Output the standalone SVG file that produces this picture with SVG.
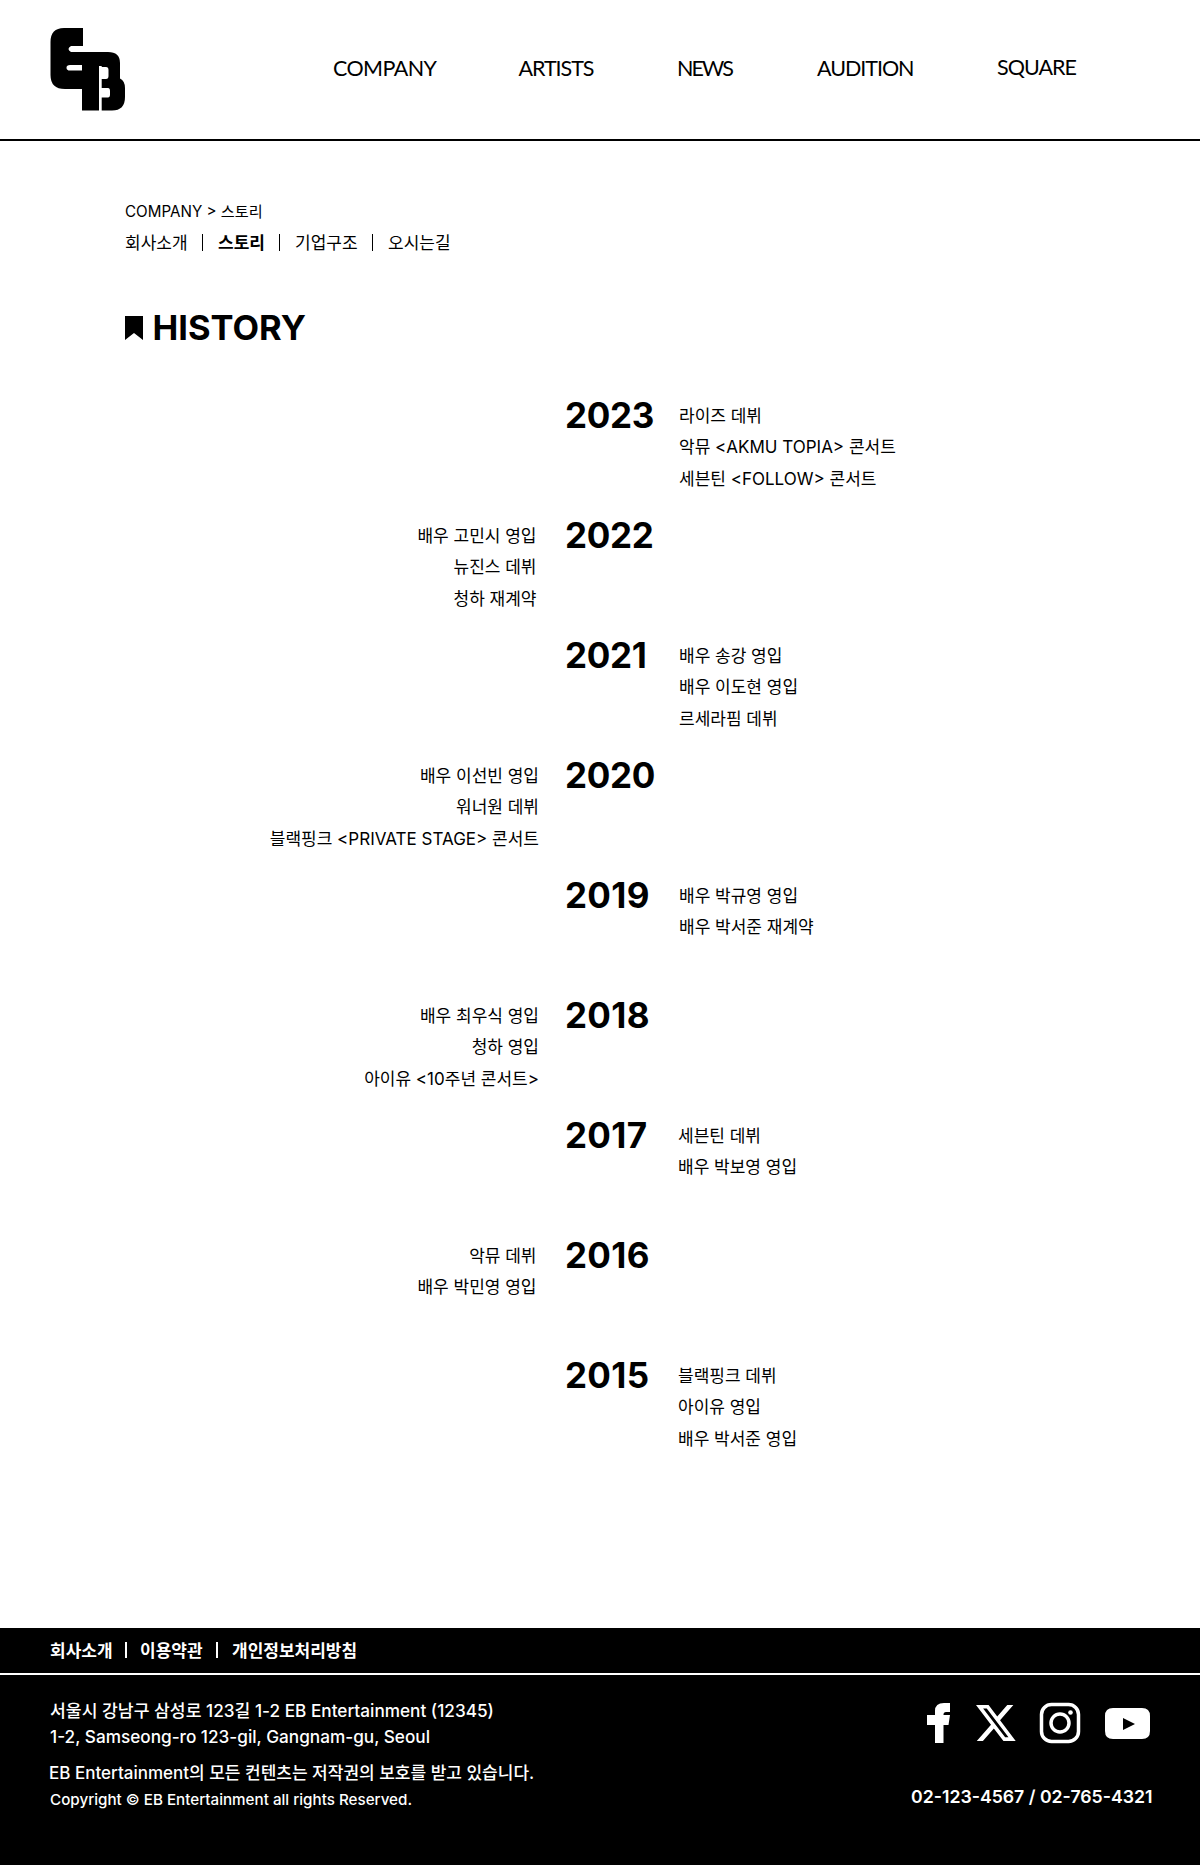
<svg xmlns="http://www.w3.org/2000/svg" width="1200" height="1865" viewBox="0 0 1200 1865">
<style>
text{font-family:Inter,"Noto Sans CJK KR",sans-serif;fill:#000}
.nav{font-family:Lato,"Noto Sans",sans-serif;font-size:21.500px}
.it{font-size:17px;transform:translateY(1px)}
.r{text-anchor:end;transform:translate(.5px,1px)}
.y{font-size:35px;font-weight:700;letter-spacing:-.3px}
.w{letter-spacing:.3px}
.f{fill:#fff}
.fn{font-size:17px;font-weight:600;fill:#fff}
.fa{font-size:17.200px;font-weight:500;fill:#fff}
</style>
<rect width="1200" height="1865" fill="#fff"/>
<g id="header">
<path id="logo" fill-rule="evenodd" d="M83 28H64Q50.500 28 50.500 42V75Q50.500 89 65 89H82V110.5H112Q125 110.5 125 97V88Q125 81 120 78.500Q120 76 120 72V63Q120 52 108 52H71Q66 49 71 46H83ZM70 65H82V70.500H70Q66.500 70.500 66.500 67.700Q66.500 65 70 65ZM99 66H101.700V110.500H99ZM101.700 67H106Q108.500 67 108.500 70V76Q108.500 79 106 79H101.700ZM101.700 88H108Q110 88 110 91V94.500Q110 97.500 108 97.500H101.700Z"/>
<text class="nav" x="333" y="76" textLength="104">COMPANY</text>
<text class="nav" x="518.500" y="76" textLength="76">ARTISTS</text>
<text class="nav" x="677" y="76" textLength="57">NEWS</text>
<text class="nav" x="817" y="76" textLength="97.500">AUDITION</text>
<text class="nav" x="997" y="75" textLength="80">SQUARE</text>
<rect y="139" width="1200" height="2"/>
</g>
<g id="breadcrumb">
<text x="125" y="217" font-size="15.200">COMPANY &gt; 스토리</text>
<text x="125" y="248.700" font-size="17">회사소개</text>
<text x="218" y="248.700" font-size="17" font-weight="700">스토리</text>
<text x="295" y="248.700" font-size="17">기업구조</text>
<text x="388" y="248.700" font-size="17">오시는길</text>
<rect x="202" y="234" width="1" height="17"/><rect x="279" y="234" width="1" height="17"/><rect x="372" y="234" width="1" height="17"/>
</g>
<g id="title">
<path d="M125 316H143V340L134 333L125 340Z"/>
<text x="152.500" y="339.500" font-size="34.500" font-weight="700">HISTORY</text>
</g>
<g id="y2023"><text class="y" x="565" y="428">2023</text>
<text class="it" x="679" y="421">라이즈 데뷔</text><text class="it" x="679" y="452">악뮤 &lt;AKMU TOPIA&gt; 콘서트</text><text class="it" x="679" y="484">세븐틴 &lt;FOLLOW&gt; 콘서트</text></g>
<g id="y2022"><text class="y" x="565" y="548">2022</text>
<text class="it r" x="536" y="541">배우 고민시 영입</text><text class="it r" x="536" y="572">뉴진스 데뷔</text><text class="it r" x="536" y="604">청하 재계약</text></g>
<g id="y2021"><text class="y" x="565" y="668">2021</text>
<text class="it" x="679" y="661">배우 송강 영입</text><text class="it" x="679" y="692">배우 이도현 영입</text><text class="it" x="679" y="724">르세라핌 데뷔</text></g>
<g id="y2020"><text class="y" x="565" y="788">2020</text>
<text class="it r" x="538.500" y="781">배우 이선빈 영입</text><text class="it r" x="538.500" y="812">워너원 데뷔</text><text class="it r" x="538.500" y="844">블랙핑크 &lt;PRIVATE STAGE&gt; 콘서트</text></g>
<g id="y2019"><text class="y w" x="565" y="908">2019</text>
<text class="it" x="679" y="901">배우 박규영 영입</text><text class="it" x="679" y="932">배우 박서준 재계약</text></g>
<g id="y2018"><text class="y w" x="565" y="1028">2018</text>
<text class="it r" x="538.500" y="1021">배우 최우식 영입</text><text class="it r" x="538.500" y="1052">청하 영입</text><text class="it r" x="538.500" y="1084">아이유 &lt;10주년 콘서트&gt;</text></g>
<g id="y2017"><text class="y w" x="565" y="1148">2017</text>
<text class="it" x="678" y="1141">세븐틴 데뷔</text><text class="it" x="678" y="1172">배우 박보영 영입</text></g>
<g id="y2016"><text class="y w" x="565" y="1268">2016</text>
<text class="it r" x="536" y="1261">악뮤 데뷔</text><text class="it r" x="536" y="1292">배우 박민영 영입</text></g>
<g id="y2015"><text class="y w" x="565" y="1388">2015</text>
<text class="it" x="678" y="1381">블랙핑크 데뷔</text><text class="it" x="678" y="1412">아이유 영입</text><text class="it" x="678" y="1444">배우 박서준 영입</text></g>
<g id="footer">
<rect y="1628" width="1200" height="237"/>
<rect y="1673" width="1200" height="2" fill="#fff"/>
<text class="fn" x="50" y="1657">회사소개</text><rect x="125" y="1642" width="2" height="16" fill="#fff"/>
<text class="fn" x="140" y="1657">이용약관</text><rect x="216" y="1642" width="2" height="16" fill="#fff"/>
<text class="fn" x="232" y="1657">개인정보처리방침</text>
<text class="fa" x="50" y="1717">서울시 강남구 삼성로 123길 1-2 EB Entertainment (12345)</text>
<text class="fa" x="50" y="1742.500">1-2, Samseong-ro 123-gil, Gangnam-gu, Seoul</text>
<text class="fa" x="49" y="1779" style="font-size:17px">EB Entertainment의 모든 컨텐츠는 저작권의 보호를 받고 있습니다.</text>
<text x="50" y="1805" font-size="15.200" font-weight="500" class="f">Copyright © EB Entertainment all rights Reserved.</text>
<text x="911" y="1803" font-size="17.700" font-weight="600" class="f">02-123-4567 / 02-765-4321</text>
<g id="icons" fill="#fff">
<path d="M935 1743V1725H927V1715H935V1711Q935 1703 944 1703H950V1712H946Q943.500 1712 943.500 1714.500V1715H950L948.500 1725H943.500V1743Z"/>
<path transform="translate(973.700 1700.900) scale(1.84)" d="M18.244 2.250h3.308l-7.227 8.260 8.502 11.240H16.170l-5.214-6.817L4.990 21.750H1.680l7.730-8.835L1.254 2.250H8.080l4.713 6.231zm-1.161 17.520h1.833L7.084 4.126H5.117z"/>
<rect x="1041.500" y="1704.500" width="37" height="37" rx="10" fill="none" stroke="#fff" stroke-width="3.500"/>
<circle cx="1060" cy="1723" r="9" fill="none" stroke="#fff" stroke-width="3.500"/><circle cx="1070.500" cy="1712.500" r="2.300"/>
<path fill-rule="evenodd" d="M1113 1708H1142Q1150 1708 1150 1716V1731Q1150 1739 1142 1739H1113Q1105 1739 1105 1731V1716Q1105 1708 1113 1708ZM1123 1718V1730L1135 1724Z"/>
</g>
</g>
</svg>
